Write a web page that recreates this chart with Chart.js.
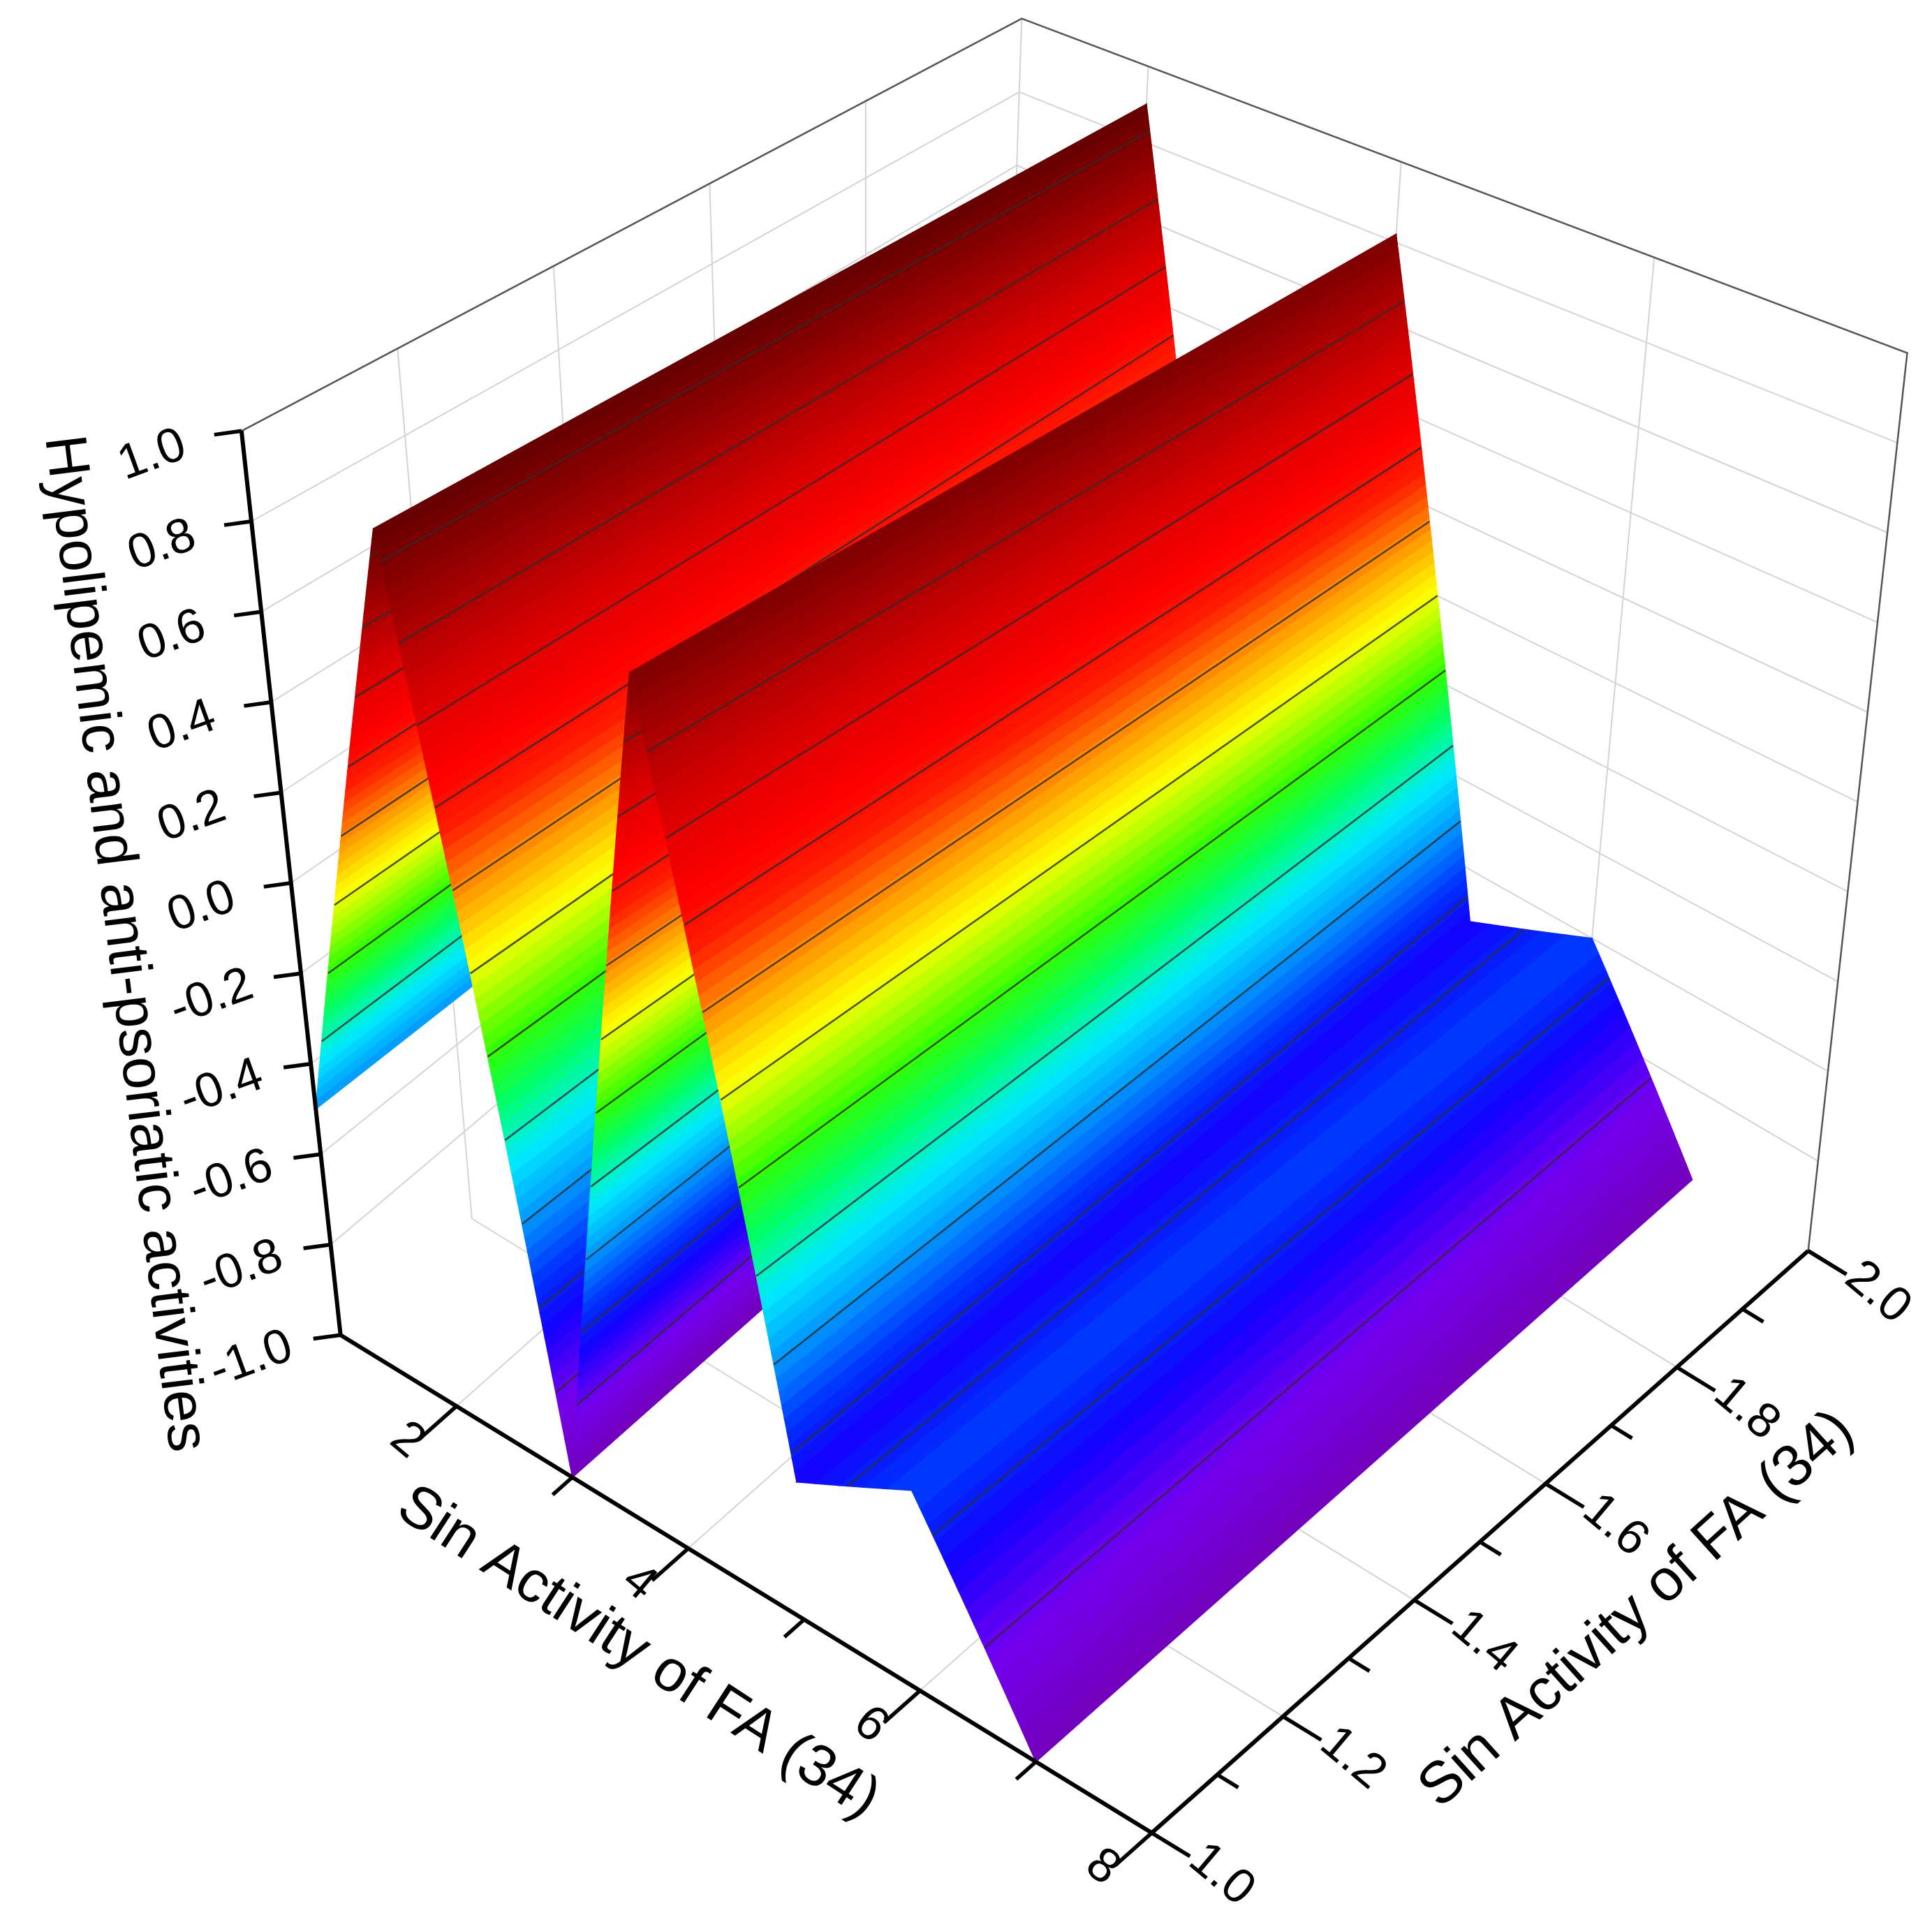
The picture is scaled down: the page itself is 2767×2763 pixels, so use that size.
<!DOCTYPE html>
<html>
<head>
<meta charset="utf-8">
<script src="https://cdn.jsdelivr.net/npm/chart.js@4.4.1/dist/chart.umd.min.js"></script>
<style>
  html, body { margin: 0; padding: 0; background: #fff; }
  #wrap { width: 2767px; height: 2763px; }
</style>
</head>
<body>
<div id="wrap"><canvas id="chart" width="2767" height="2763"></canvas></div>
<script>
// surface values: z depends on x, constant along y
const xValues = [1, 2, 3, 4, 5, 6, 7];
const zValues = [-0.5, 0.9, -1.0, 0.82, -0.72, -0.6, -1.0];

const xTicks = [2, 3, 4, 5, 6, 7, 8];
const xLabels = ['2', '4', '6', '8'];
const yTicks = [1.0, 1.1, 1.2, 1.3, 1.4, 1.5, 1.6, 1.7, 1.8, 1.9, 2.0];
const yLabels = ['1.0', '1.2', '1.4', '1.6', '1.8', '2.0'];
const zLabels = ['-1.0', '-0.8', '-0.6', '-0.4', '-0.2', '0.0', '0.2', '0.4', '0.6', '0.8', '1.0'];

const xTitle = 'Sin Activity of FA (34)';
const yTitle = 'Sin Activity of FA (34)';
const zTitle = 'Hypolipemic and anti-psoriatic activities';

// screen corners of the box (in a 1560 wide frame), [x][y][z]
const corners = {
  '1,1,-1': [275, 1078], '1,1,1': [195, 348],
  '8,1,-1': [930, 1480], '8,1,1': [915, 640],
  '8,2,-1': [1460, 1010], '8,2,1': [1540, 285],
  '1,2,-1': [805, 608], '1,2,1': [825, 15]
};

function lerp(a, b, t) { return [a[0] + (b[0] - a[0]) * t, a[1] + (b[1] - a[1]) * t]; }

function project(x, y, z) {
  const u = (x - 1) / 7, v = y - 1, w = (z + 1) / 2;
  const c = (a, b, d) => corners[a + ',' + b + ',' + d];
  const b0 = lerp(lerp(c(1, 1, -1), c(8, 1, -1), u), lerp(c(1, 2, -1), c(8, 2, -1), u), v);
  const b1 = lerp(lerp(c(1, 1, 1), c(8, 1, 1), u), lerp(c(1, 2, 1), c(8, 2, 1), u), v);
  const p = lerp(b0, b1, w);
  return {x: p[0], y: p[1]};
}

const cmap = [
  [-1.0, [115, 0, 185]], [-0.85, [115, 0, 240]], [-0.72, [20, 0, 255]], [-0.62, [0, 50, 255]],
  [-0.5, [0, 150, 255]], [-0.38, [0, 235, 255]], [-0.27, [0, 255, 110]], [-0.16, [50, 255, 0]],
  [-0.05, [180, 255, 0]], [0.02, [255, 255, 0]], [0.15, [255, 150, 0]], [0.28, [255, 30, 0]],
  [0.38, [255, 0, 0]], [0.55, [215, 0, 0]], [0.9, [100, 0, 0]], [1.0, [90, 0, 0]]
];

function colorAt(z) {
  for (let i = 1; i < cmap.length; i++) {
    if (z <= cmap[i][0]) {
      const t = (z - cmap[i - 1][0]) / (cmap[i][0] - cmap[i - 1][0]);
      const a = cmap[i - 1][1], b = cmap[i][1];
      return `rgb(${Math.round(a[0] + (b[0] - a[0]) * t)},${Math.round(a[1] + (b[1] - a[1]) * t)},${Math.round(a[2] + (b[2] - a[2]) * t)})`;
    }
  }
  return 'rgb(90,0,0)';
}

const datasets = [];
function addLine(points, color, width) {
  datasets.push({data: points, showLine: true, borderColor: color, borderWidth: width,
                 pointRadius: 0, fill: false});
}
function addPoly(points, color) {
  datasets.push({data: points, poly: true, backgroundColor: color, pointRadius: 0, showLine: false});
}

// back walls and floor grid
const gridColor = '#d4d4d4';
for (let z = -0.8; z < 0.95; z += 0.2) {
  addLine([project(1, 1, z), project(1, 2, z), project(8, 2, z)], gridColor, 2);
}
[1.2, 1.4, 1.6, 1.8].forEach(y => {
  addLine([project(1, y, 1), project(1, y, -1), project(8, y, -1)], gridColor, 2);
});
[2, 4, 6].forEach(x => {
  addLine([project(x, 1, -1), project(x, 2, -1), project(x, 2, 1)], gridColor, 2);
});
addLine([project(1, 2, -1), project(1, 2, 1)], gridColor, 2);
addLine([project(1, 1, 1), project(1, 2, 1), project(8, 2, 1), project(8, 2, -1)], '#555', 2.5);

// surface, back to front, sliced into colour bands
const bandStep = 0.025;
const contourLevels = [];
for (let k = -5; k <= 5; k++) contourLevels.push(k / 6);

for (let i = 0; i < xValues.length - 1; i++) {
  const x0 = xValues[i], x1 = xValues[i + 1], z0 = zValues[i], z1 = zValues[i + 1];
  for (let lo = -1; lo < 1 - 1e-9; lo += bandStep) {
    const hi = lo + bandStep;
    let ta, tb;
    if (Math.abs(z1 - z0) < 1e-9) {
      if (z0 < lo || z0 >= hi) continue;
      ta = 0; tb = 1;
    } else {
      ta = (lo - z0) / (z1 - z0); tb = (hi - z0) / (z1 - z0);
      if (ta > tb) [ta, tb] = [tb, ta];
      ta = Math.max(0, ta); tb = Math.min(1, tb);
      if (tb - ta < 1e-6) continue;
    }
    const xa = x0 + (x1 - x0) * ta, xb = x0 + (x1 - x0) * tb;
    const za = z0 + (z1 - z0) * ta, zb = z0 + (z1 - z0) * tb;
    addPoly([project(xa, 1, za), project(xb, 1, zb), project(xb, 2, zb), project(xa, 2, za)],
            colorAt((lo + hi) / 2));
  }
  contourLevels.forEach(L => {
    if ((L - z0) * (L - z1) < 0) {
      const xl = x0 + (x1 - x0) * (L - z0) / (z1 - z0);
      addLine([project(xl, 1, L), project(xl, 2, L)], 'rgba(45,45,45,0.85)', 2.5);
    }
  });
}

// axes and tick marks
addLine([project(1, 1, 1), project(1, 1, -1), project(8, 1, -1), project(8, 2, -1)], '#000', 6);
zLabels.forEach(s => {
  const p = project(1, 1, parseFloat(s));
  addLine([p, {x: p.x - 22, y: p.y + 3}], '#000', 5.5);
});
xTicks.forEach(x => {
  const p = project(x, 1, -1);
  const len = x % 2 === 0 ? 0.055 : 0.03;
  addLine([p, project(x, 1 - len, -1)], '#000', 5.5);
});
yTicks.forEach(y => {
  const p = project(8, y, -1);
  const major = Math.round(y * 10) % 2 === 0;
  addLine([p, project(major ? 8.33 : 8.18, y, -1)], '#000', 5.5);
});
addLine([project(8, 2, -1), project(8.33, 2, -1)], '#000', 5.5);

datasets.forEach((d, i) => { d.order = -i; });

const polyPlugin = {
  id: 'polyFill',
  beforeDatasetDraw(chart, args) {
    const ds = chart.data.datasets[args.index];
    if (!ds.poly) return;
    const ctx = chart.ctx;
    const pts = args.meta.data;
    ctx.save();
    ctx.beginPath();
    pts.forEach((p, j) => { if (j === 0) ctx.moveTo(p.x, p.y); else ctx.lineTo(p.x, p.y); });
    ctx.closePath();
    ctx.fillStyle = ds.backgroundColor;
    ctx.strokeStyle = ds.backgroundColor;
    ctx.lineWidth = 1.5;
    ctx.fill();
    ctx.stroke();
    ctx.restore();
    return false;
  }
};

const textPlugin = {
  id: 'axisText',
  afterDraw(chart) {
    const ctx = chart.ctx, sx = chart.scales.x, sy = chart.scales.y;
    const px = p => [sx.getPixelForValue(p.x), sy.getPixelForValue(p.y)];
    function text(s, p, dx, dy, angle, size) {
      const q = px({x: p.x + dx, y: p.y + dy});
      ctx.save();
      ctx.translate(q[0], q[1]);
      ctx.rotate(angle * Math.PI / 180);
      ctx.font = `${size}px "Liberation Sans", Arial, sans-serif`;
      ctx.fillStyle = '#000';
      ctx.textAlign = 'center';
      ctx.textBaseline = 'middle';
      ctx.fillText(s, 0, 0);
      ctx.restore();
    }
    zLabels.forEach(s => text(s, project(1, 1, parseFloat(s)), -72, 20, -20, 70));
    xLabels.forEach(s => text(s, project(parseFloat(s), 1, -1), -40, 28, 40, 70));
    yLabels.forEach(s => text(s, project(8, parseFloat(s), -1), 56, 34, 40, 70));
    text(xTitle, {x: 515, y: 1335}, 0, 0, 33, 84);
    text(yTitle, {x: 1322, y: 1300}, 0, 0, -42, 84);
    text(zTitle, {x: 100, y: 762}, 0, 0, 83, 84);
  }
};

new Chart(document.getElementById('chart').getContext('2d'), {
  type: 'scatter',
  data: {datasets: datasets},
  options: {
    responsive: false,
    animation: false,
    devicePixelRatio: 1,
    layout: {padding: 0},
    plugins: {legend: {display: false}, tooltip: {enabled: false}},
    scales: {
      x: {type: 'linear', min: 0, max: 1560, display: false},
      y: {type: 'linear', min: 0, max: 1557.6, reverse: true, display: false}
    }
  },
  plugins: [polyPlugin, textPlugin]
});
</script>
</body>
</html>
